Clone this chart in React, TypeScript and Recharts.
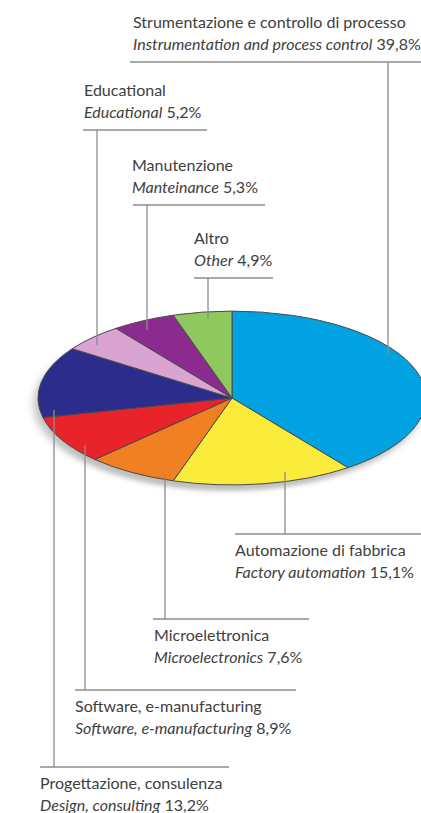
import React from 'react';
import { PieChart, Pie, Cell } from 'recharts';

// ---- data ----
const categoriesIt = [
  'Strumentazione e controllo di processo',
  'Automazione di fabbrica',
  'Microelettronica',
  'Software, e-manufacturing',
  'Progettazione, consulenza',
  'Educational',
  'Manutenzione',
  'Altro',
];
const categoriesEn = [
  'Instrumentation and process control',
  'Factory automation',
  'Microelectronics',
  'Software, e-manufacturing',
  'Design, consulting',
  'Educational',
  'Manteinance',
  'Other',
];
const shares = [39.8, 15.1, 7.6, 8.9, 13.2, 5.2, 5.3, 4.9];

// ---- styles ----
const colors = ['#00a2e2', '#fbec3b', '#f18022', '#e9232a', '#2c2c8d', '#d9a4d2', '#8c2b8f', '#8ec85e'];

// label layout (annotation placement, not data)
type LabelLayout = {
  textX: number;
  ruleY: number;
  ruleX1: number;
  ruleX2: number;
  lineX: number;
  above: boolean;
  anchorY: number;
};
const labelLayout: LabelLayout[] = [
  { textX: 133, ruleY: 62, ruleX1: 130, ruleX2: 421, lineX: 388, above: true, anchorY: 355 },
  { textX: 235, ruleY: 534, ruleX1: 235, ruleX2: 421, lineX: 285, above: false, anchorY: 472 },
  { textX: 154, ruleY: 619, ruleX1: 153, ruleX2: 309, lineX: 165, above: false, anchorY: 475 },
  { textX: 75, ruleY: 690, ruleX1: 75, ruleX2: 296, lineX: 85, above: false, anchorY: 445 },
  { textX: 40, ruleY: 767, ruleX1: 40, ruleX2: 229, lineX: 54, above: false, anchorY: 410 },
  { textX: 84, ruleY: 130, ruleX1: 83, ruleX2: 207, lineX: 97, above: true, anchorY: 345 },
  { textX: 132, ruleY: 205, ruleX1: 133, ruleX2: 265, lineX: 147, above: true, anchorY: 330 },
  { textX: 194, ruleY: 278, ruleX1: 194, ruleX2: 273, lineX: 208, above: true, anchorY: 318 },
];

const data = categoriesIt.map((it, i) => ({ name: it, en: categoriesEn[i], value: shares[i] }));
const shadowData = [{ name: 'total', value: shares.reduce((a, b) => a + b, 0) }];

const CX = 232;
const CY = 398;
const R = 194;
const SQUASH = 0.448;

const FONT = 'Lato, "Open Sans", sans-serif';
const TEXT_COLOR = '#404040';
const LINE_COLOR = '#8c8c8c';

const fmt = (v: number) => v.toFixed(1).replace('.', ',') + '%';

const renderLabel = (props: any) => {
  const i = props.index as number;
  const L = labelLayout[i];
  const entry = data[i];
  if (!L) return null;
  const l1 = L.above ? L.ruleY - 34 : L.ruleY + 22;
  const l2 = L.above ? L.ruleY - 12 : L.ruleY + 44;
  return (
    <g>
      <line x1={L.lineX} y1={L.anchorY} x2={L.lineX} y2={L.ruleY} stroke={LINE_COLOR} strokeWidth={1.3} />
      <line x1={L.ruleX1} y1={L.ruleY} x2={L.ruleX2} y2={L.ruleY} stroke={LINE_COLOR} strokeWidth={1.3} />
      <text x={L.textX} y={l1} fill={TEXT_COLOR} fontFamily={FONT} fontSize={16} textAnchor="start">
        {entry.name}
      </text>
      <text x={L.textX} y={l2} fill={TEXT_COLOR} fontFamily={FONT} fontSize={16} textAnchor="start">
        <tspan fontStyle="italic">{entry.en}</tspan>
        <tspan>{' ' + fmt(entry.value)}</tspan>
      </text>
    </g>
  );
};

const css = `
.ellipse-pie .recharts-sector {
  transform-origin: ${CX}px ${CY}px;
  transform: scaleY(${SQUASH});
  vector-effect: non-scaling-stroke;
}
.ellipse-shadow .recharts-sector {
  transform-origin: ${CX}px ${CY}px;
  transform: translate(-4px, 6px) scaleY(${SQUASH});
  filter: blur(5px);
}
`;

export default function App() {
  return (
    <div style={{ position: 'absolute', left: 0, top: 0, width: 421, height: 813, background: '#fff', overflow: 'hidden' }}>
      <style>{css}</style>
      <PieChart width={421} height={813} margin={{ top: 0, right: 0, bottom: 0, left: 0 }}>
        <Pie
          className="ellipse-shadow"
          data={shadowData}
          dataKey="value"
          cx={CX}
          cy={CY}
          outerRadius={R}
          startAngle={90}
          endAngle={-270}
          stroke="none"
          fill="rgba(0,0,0,0.25)"
          isAnimationActive={false}
          label={false}
          labelLine={false}
        />
        <Pie
          className="ellipse-pie"
          data={data}
          dataKey="value"
          nameKey="name"
          cx={CX}
          cy={CY}
          outerRadius={R}
          startAngle={90}
          endAngle={-270}
          stroke="#4a4a4a"
          strokeWidth={1}
          isAnimationActive={false}
          label={renderLabel}
          labelLine={false}
        >
          {data.map((d, i) => (
            <Cell key={d.name} fill={colors[i]} />
          ))}
        </Pie>
      </PieChart>
    </div>
  );
}
